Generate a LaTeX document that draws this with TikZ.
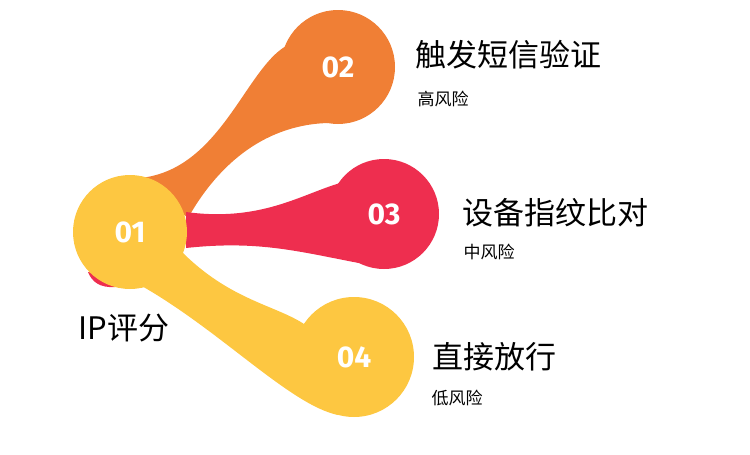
\documentclass[tikz,border=0pt]{standalone}
\usepackage{fontspec}
\setmainfont{Noto Sans}
\newfontfamily\cjk{Noto Sans CJK SC}
\newfontfamily\numf{Fira Sans}
\definecolor{cor}{HTML}{F07F35}
\definecolor{cred}{HTML}{EE2E4F}
\definecolor{cyel}{HTML}{FDC741}
\begin{document}
\begin{tikzpicture}[x=1pt,y=-1pt,
  num/.style={text=white,font=\numf\bfseries\fontsize{30}{30}\selectfont},
  ttl/.style={anchor=west,font=\cjk\fontsize{31}{34}\selectfont},
  sub/.style={anchor=west,font=\cjk\fontsize{17}{19}\selectfont}]
\useasboundingbox (0,0) rectangle (750,455);
% bands
\fill[cor] (140,178) .. controls (220,170) and (245,70) .. (286,46) -- (328,123) .. controls (260,125) and (215,170) .. (188,218) -- cycle;
\fill[cred] (186,212) .. controls (260,222) and (300,195) .. (340,183) -- (364,264) .. controls (300,252) and (260,240) .. (186,248) -- cycle;
\fill[cred] (88,272) .. controls (92,282) and (100,288) .. (115,287) -- (105,275) -- cycle;
\fill[cyel] (182,252) .. controls (230,300) and (275,305) .. (304,324) -- (338,415) .. controls (290,405) and (220,330) .. (140,285) -- cycle;
% circles
\fill[cor] (338,67) circle (57) node[num] (n2) {02};
\fill[cred] (384,214) circle (55) node[num] (n3) {03};
\fill[cyel] (354,357) circle (60) node[num] (n4) {04};
\fill[cyel] (130,232) circle (57) node[num] (n1) {01};
% labels
\node[ttl] (t2) at (412,55) {触发短信验证};
\node[sub] (s2) at (414,99) {高风险};
\node[ttl] (t3) at (459,213) {设备指纹比对};
\node[sub] (s3) at (460,252) {中风险};
\node[ttl] (t4) at (429,357) {直接放行};
\node[sub] (s4) at (428,398) {低风险};
\node[ttl] (t1) at (75,328) {IP评分};
\end{tikzpicture}
\end{document}
